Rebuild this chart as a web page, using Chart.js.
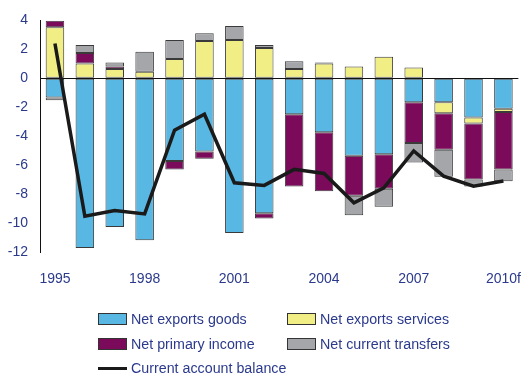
<!DOCTYPE html>
<html>
<head>
<meta charset="utf-8">
<script src="https://cdn.jsdelivr.net/npm/chart.js@4/dist/chart.umd.min.js"></script>
<style>
  html, body { margin: 0; padding: 0; background: #fff; }
  #wrap { position: relative; width: 532px; height: 376px; }
  #box { position: absolute; left: 0; top: 0; width: 532px; height: 292px; }
  #legend { position: absolute; left: 0; top: 0; width: 532px; height: 376px; pointer-events: none; }
  .item { position: absolute; font-family: "Liberation Sans", Arial, sans-serif;
          font-size: 15.5px; color: #2b3a8c; line-height: 17px; white-space: nowrap;
          transform: scaleX(0.92); transform-origin: left center; }
  .sw { position: absolute; width: 27px; height: 10px; border: 1px solid #333; }
  .ln { position: absolute; width: 29px; height: 3px; background: #1a1a1a; }
</style>
</head>
<body>
<div id="wrap">
  <div id="box"><canvas id="chart"></canvas></div>
  <div id="legend"></div>
</div>
<script>
// ---------- data ----------
const years = ["1995", "1996", "1997", "1998", "1999", "2000", "2001", "2002",
               "2003", "2004", "2005", "2006", "2007", "2008", "2009", "2010f"];
const goods     = [-1.33, -11.72, -10.27, -11.19, -5.72, -5.05, -10.69, -9.32, -2.48, -3.73, -5.35, -5.25, -1.65, -1.65, -2.71, -2.11];
const services  = [3.52, 1.03, 0.64, 0.45, 1.33, 2.58, 2.65, 2.09, 0.64, 1.03, 0.82, 1.49, 0.75, -0.76, -0.42, -0.21];
const income    = [0.46, 0.72, 0.18, null, -0.58, -0.51, null, -0.37, -4.99, -4.07, -2.77, -2.38, -2.82, -2.52, -3.86, -3.98];
const transfers = [-0.18, 0.55, 0.28, 1.39, 1.32, 0.53, 0.97, 0.21, 0.53, 0.07, -1.34, -1.25, -1.34, -1.87, -0.49, -0.81];
const balance   = [2.4, -9.53, -9.13, -9.37, -3.59, -2.48, -7.22, -7.4, -6.29, -6.57, -8.6, -7.57, -5.02, -6.76, -7.45, -7.1];
const yTicks = [4, 2, 0, -2, -4, -6, -8, -10, -12];

const textColor = "#2b3a8c";
const font = { family: "'Liberation Sans', Arial, sans-serif", size: 14 };

function bar(label, data, color) {
  return {
    type: "bar", label, data, backgroundColor: color,
    borderColor: "#3a3a3a", borderWidth: 1, borderSkipped: false,
    barPercentage: 0.62, categoryPercentage: 1, stack: "bars", order: 1
  };
}

const datasets = [
  bar("Net exports goods", goods, "#58b7e3"),
  bar("Net exports services", services, "#f1ee85"),
  bar("Net primary income", income, "#7b0a5b"),
  bar("Net current transfers", transfers, "#a5a6aa"),
  {
    type: "line", label: "Current account balance", data: balance,
    borderColor: "#1a1a1a", borderWidth: 3.5, pointRadius: 0, tension: 0,
    stack: "line", order: 0
  }
];

new Chart(document.getElementById("chart"), {
  data: { labels: years, datasets },
  options: {
    responsive: true, maintainAspectRatio: false, animation: false,
    layout: { padding: { top: 12, right: 2, left: 0, bottom: 0 } },
    plugins: { legend: { display: false }, tooltip: { enabled: false } },
    scales: {
      x: {
        stacked: true,
        grid: { display: false },
        border: { display: false },
        ticks: {
          color: textColor, font, autoSkip: false, maxRotation: 0, padding: 11,
          callback: (v, i) => (i % 3 === 0 ? years[i] : "")
        },
        afterFit: s => { s.height = 40; }
      },
      y: {
        stacked: true, min: -12, max: 4,
        afterBuildTicks: s => { s.ticks = yTicks.map(v => ({ value: v })); },
        grid: {
          drawTicks: false,
          color: c => (c.tick && c.tick.value === 0 ? "#111" : "rgba(0,0,0,0)"),
          lineWidth: 1
        },
        border: { display: true, color: "#111", width: 1 },
        ticks: { color: textColor, font, padding: 12 },
        afterFit: s => { s.width = 40; }
      }
    }
  }
});

// ---------- legend ----------
const legend = document.getElementById("legend");
const spots = [[98, 319], [287, 319], [98, 343.5], [287, 343.5], [98, 368]];
datasets.forEach((d, i) => {
  const [x, y] = spots[i];
  const mark = document.createElement("div");
  if (d.type === "bar") {
    mark.className = "sw";
    mark.style.background = d.backgroundColor;
    mark.style.left = x + "px";
    mark.style.top = (y - 6) + "px";
  } else {
    mark.className = "ln";
    mark.style.left = x + "px";
    mark.style.top = (y - 1.5) + "px";
  }
  legend.appendChild(mark);
  const t = document.createElement("div");
  t.className = "item";
  t.textContent = d.label;
  t.style.left = (x + 33) + "px";
  t.style.top = (y - 9) + "px";
  legend.appendChild(t);
});
</script>
</body>
</html>
